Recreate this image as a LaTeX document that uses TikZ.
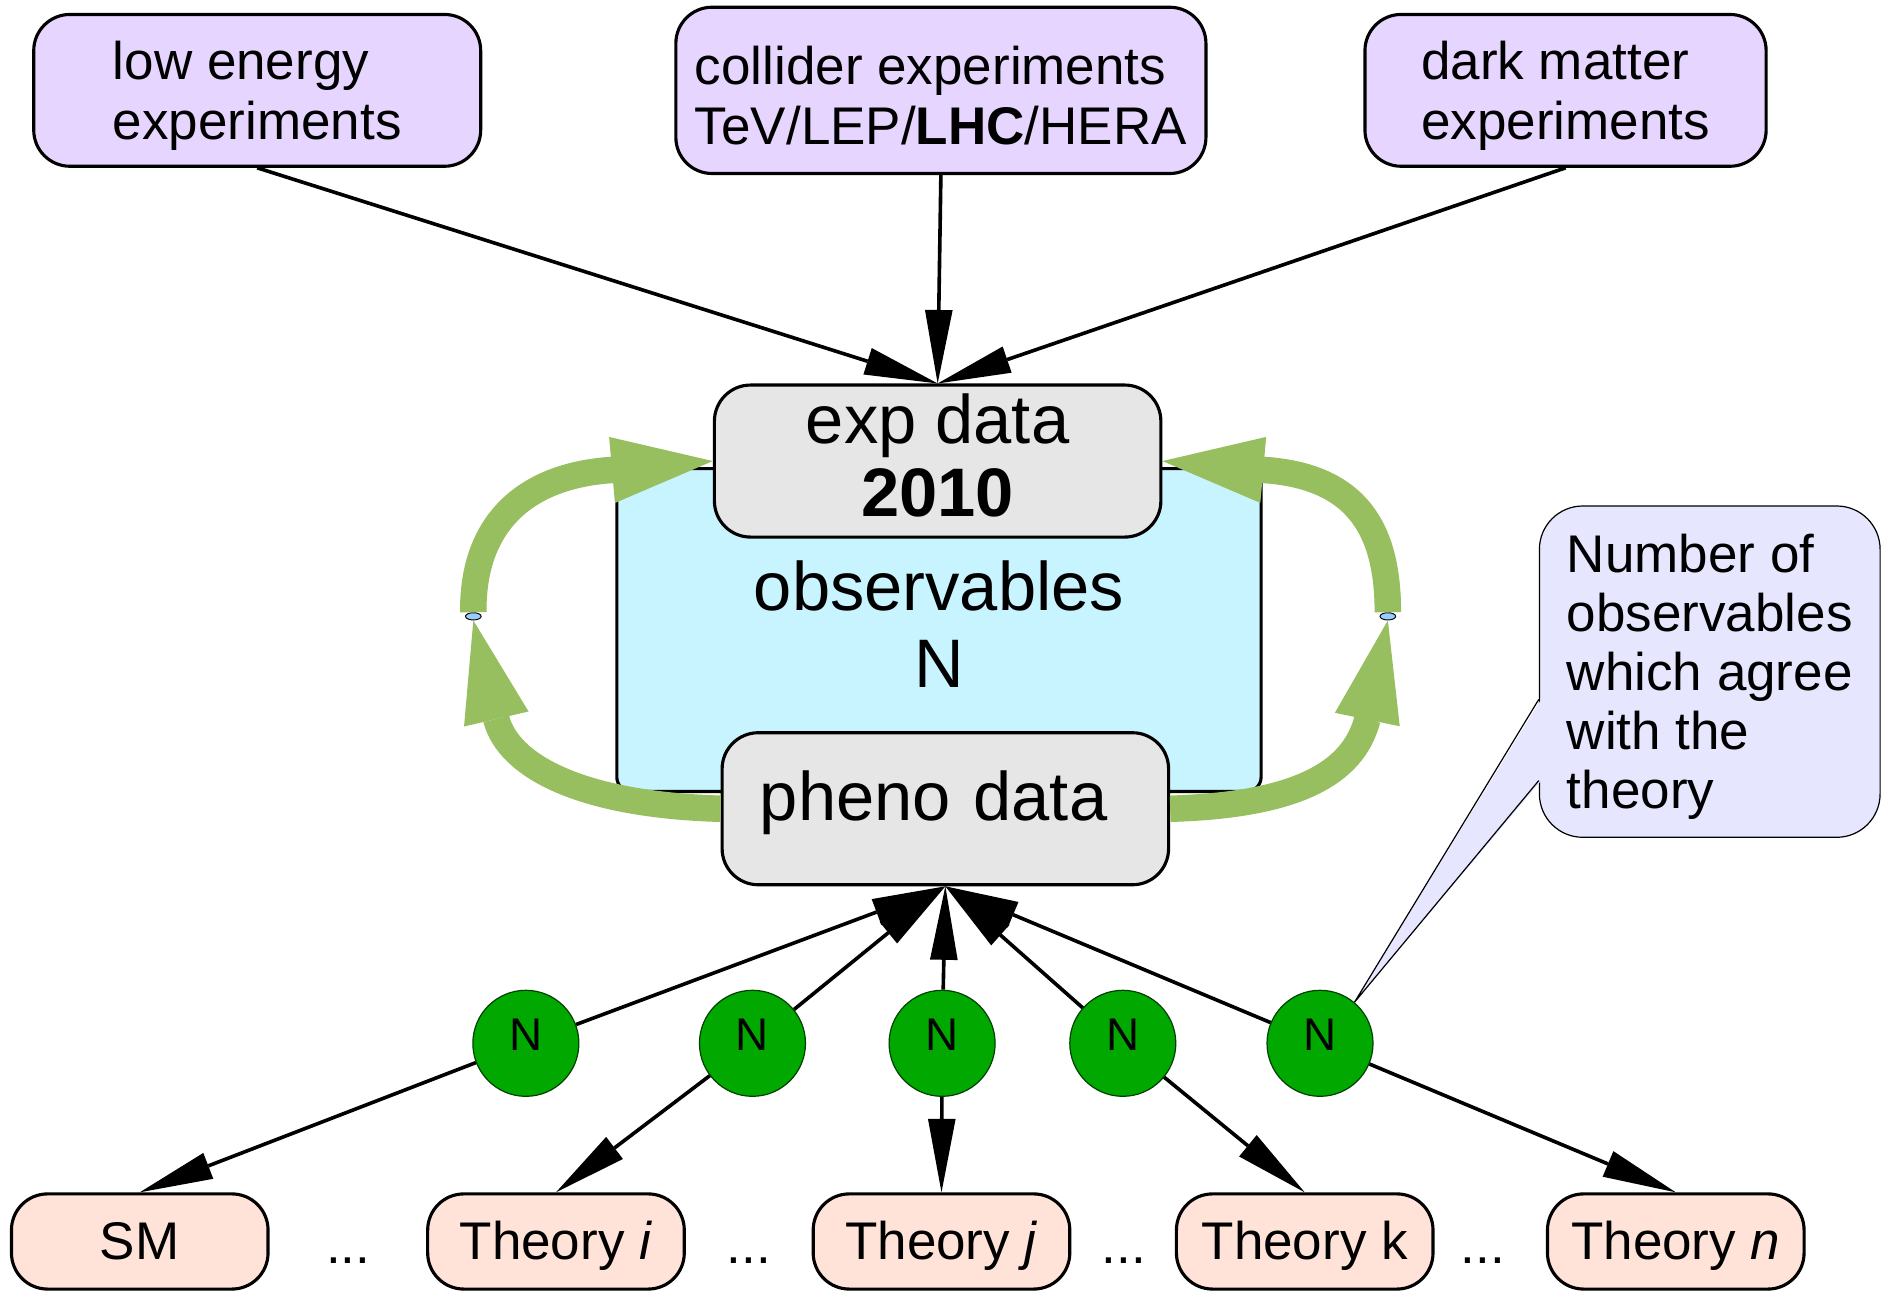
\documentclass[tikz,border=0pt]{standalone}
\usepackage{fontspec}
\setmainfont{Liberation Sans}
\usetikzlibrary{arrows.meta,shapes.geometric}
\definecolor{lilac}{HTML}{E6D6FF}
\definecolor{icecyan}{HTML}{C8F4FF}
\definecolor{boxgrey}{HTML}{E6E6E6}
\definecolor{arrgreen}{HTML}{97BF5F}
\definecolor{ngreen}{HTML}{00A800}
\definecolor{ndark}{HTML}{004000}
\definecolor{peach}{HTML}{FFE3D9}
\definecolor{notecol}{HTML}{E6E6FF}
\definecolor{hingeblue}{HTML}{99CCFF}
\begin{document}
\begin{tikzpicture}[x=0.5pt, y=-0.5pt,
        exper/.style={draw, line width=1.3pt, fill=lilac, rounded corners=15pt, align=left, text height=45.5pt, font=\fontsize{22}{25}\selectfont},
        databox/.style={draw, line width=1.3pt, fill=boxgrey, rounded corners=15pt, align=center, minimum width=185.3pt, minimum height=63.1pt, font=\fontsize{28.5}{30}\selectfont},
        theory/.style={draw, line width=1.3pt, fill=peach, rounded corners=15pt, minimum width=106.5pt, minimum height=39.5pt, text height=15pt, text depth=0pt, font=\fontsize{22}{24.5}\selectfont},
        count/.style={circle, draw=ndark, line width=0.5pt, fill=ngreen, minimum size=44pt, inner sep=0pt, text depth=7pt, font=\fontsize{19}{22}\selectfont},
        hinge/.style={ellipse, draw, line width=0.4pt, fill=hingeblue, minimum width=6.5pt, minimum height=3pt, inner sep=0pt},
        dots/.style={anchor=base, font=\fontsize{22}{24.5}\selectfont},
        blk/.style={line width=1.5pt, -{Triangle[length=30.5pt, width=11.5pt, line width=0pt]}},
        greenarr/.style={draw=arrgreen, line width=11pt, -{Triangle[length=42pt, width=27.5pt, line width=0pt]}}]
    \useasboundingbox (0,0) rectangle (1568,1072.4);

    % observables in the middle
    \node[draw, line width=1.3pt, fill=icecyan, rounded corners=6pt, minimum width=267.4pt, minimum height=134pt, align=center, text depth=5pt, font=\fontsize{28.5}{31.75}\selectfont] (obs) at (779.4,523) {observables\\N};
    \node[databox, text depth=5pt] (exp) at (778.3,382.7) {exp data\\\textbf{2010}};
    \node[databox, align=left, text width=154pt, inner xsep=15.5pt, text depth=11pt] (pheno) at (784.7,671.3) {pheno data};

    % experiments
    \node[exper, minimum width=185.5pt, minimum height=63pt] (low) at (213.5,75) {low energy\\experiments};
    \node[exper, minimum width=220pt, minimum height=69pt] (coll) at (781,75) {collider experiments\\TeV/LEP/\textbf{LHC}/HERA};
    \node[exper, minimum width=166.5pt, minimum height=63pt] (dark) at (1299.5,75) {dark matter\\experiments};

    \draw[blk] (low.south) -- (exp.north);
    \draw[blk] (coll.south) -- (exp.north);
    \draw[blk] (dark.south) -- (exp.north);

    % loops between exp and pheno data
    \node[hinge] (lh) at (392.9,511.6) {};
    \node[hinge] (rh) at (1152,511.6) {};
    \draw[greenarr] (lh.north) .. controls (392,440) and (430,395) .. (509,390) -- (exp.west);
    \draw[greenarr] (pheno.west) .. controls (480,668) and (422,635) .. (412,597) -- (lh.south);
    \draw[greenarr] (pheno.east) .. controls (1089,668) and (1125,635) .. (1135,597) -- (rh.south);
    \draw[greenarr] (rh.north) .. controls (1152,440) and (1127,395) .. (1048,390) -- (exp.east);

    % theories
    \node[theory] (sm) at (116,1030.5) {SM};
    \node[theory] (thi) at (461.5,1030.5) {Theory \textit{i}};
    \node[theory] (thj) at (781.5,1030.5) {Theory \textit{j}};
    \node[theory] (thk) at (1083,1030.5) {Theory k};
    \node[theory] (thn) at (1391,1030.5) {Theory \textit{n}};
    \node[dots] (d1) at (289,1049) {...};
    \node[dots] (d2) at (621.5,1049) {...};
    \node[dots] (d3) at (933,1049) {...};
    \node[dots] (d4) at (1231,1049) {...};

    \node[count] (c1) at (436.5,866) {N};
    \node[count] (c2) at (624.6,866) {N};
    \node[count] (c3) at (782,866) {N};
    \node[count] (c4) at (932,866) {N};
    \node[count] (c5) at (1095.7,866) {N};

    \draw[blk] (c1) -- (pheno.south);
    \draw[blk] (c2) -- (pheno.south);
    \draw[blk] (c3) -- (pheno.south);
    \draw[blk] (c4) -- (pheno.south);
    \draw[blk] (c5) -- (pheno.south);
    \draw[blk] (c1) -- (sm.north);
    \draw[blk] (c2) -- (thi.north);
    \draw[blk] (c3) -- (thj.north);
    \draw[blk] (c4) -- (thk.north);
    \draw[blk] (c5) -- (thn.north);

    % callout
    \node[draw, line width=0.5pt, fill=notecol, rounded corners=18pt, minimum width=141.4pt, minimum height=137.5pt, align=left, text height=118pt, font=\fontsize{22}{24.5}\selectfont] (note) at (1419.2,557.5) {Number of\\observables\\which agree\\with the\\theory};
    \fill[notecol] ([xshift=1pt,yshift=-11.5pt]note.west) -- (c5.50) -- ([xshift=1pt,yshift=-45.2pt]note.west) -- cycle;
    \draw[line width=0.5pt] ([yshift=-11.5pt]note.west) -- (c5.50) -- ([yshift=-45.2pt]note.west);
\end{tikzpicture}
\end{document}
